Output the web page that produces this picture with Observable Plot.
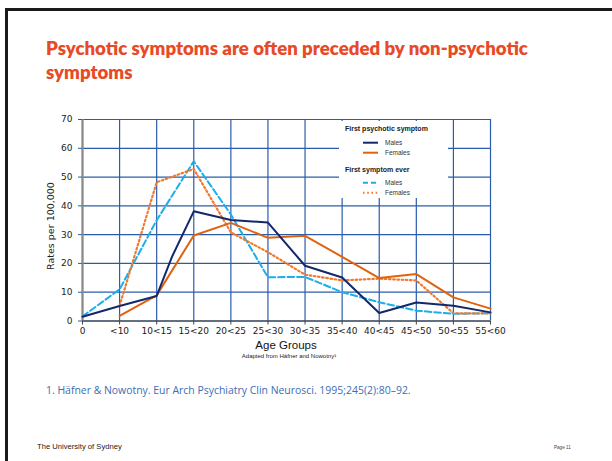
<!DOCTYPE html>
<html><head><meta charset="utf-8">
<script src="https://cdn.jsdelivr.net/npm/d3@7"></script>
<script src="https://cdn.jsdelivr.net/npm/@observablehq/plot@0.6"></script>
<style>
html,body{margin:0;padding:0;background:#fff;width:612px;height:461px;overflow:hidden;position:relative}
#chart{position:absolute;left:0;top:0}
#overlay{position:absolute;left:0;top:0}
#frame{position:absolute;left:5px;top:8px;width:620px;height:470px;border-top:3px solid #1a1a1a;border-left:3px solid #1a1a1a;box-sizing:border-box}
</style></head><body>
<div id="frame"></div>
<div id="chart"></div>
<svg id="overlay" width="612" height="461"></svg>
<script>
// ---- data ----
const ageGroups = ["0","<10","10<15","15<20","20<25","25<30","30<35","35<40","40<45","45<50","50<55","55<60"];
const yTicks = [0,10,20,30,40,50,60,70];
const groupPos = [0,1,2,3,4,5,6,7,8,9,10,11];
// First psychotic symptom – males (includes an intermediate vertex between 10<15 and 15<20)
const psychMalesX = [0,1,2,2.42,3,4,5,6,7,8,9,10,11];
const psychMales  = [1.5,5.2,8.7,22.5,38.1,35.1,34.2,19.2,15.1,2.8,6.4,5.3,3.0];
// First psychotic symptom – females
const psychFemales = [null,1.8,8.9,29.7,34.1,28.9,29.6,22.3,14.9,16.3,8.2,4.3];
// First symptom ever – males
const everMales = [1.6,11.0,35.0,55.5,37.0,15.2,15.3,10.0,6.5,3.6,2.5,2.7];
// First symptom ever – females
const everFemales = [null,5.3,48.2,52.8,30.8,23.9,16.1,14.1,14.7,14.1,2.7,2.6];

const legendGroups = ["First psychotic symptom","First symptom ever"];
const legendLabels = ["Males","Females"];

// ---- styles ----
const C = {navy:"#12286c", orange:"#e0620e", cyan:"#1aaeea", dot:"#f27a2c", grid:"#2b5cab"};
const DOTS = "1.6,2.6";

function rows(xs, ys){ return xs.map((x,i)=>({x, y: ys[i]})).filter(d=>d.y!=null); }

const chart = Plot.plot({
  width: 612, height: 461,
  marginLeft: 82, marginRight: 122, marginTop: 119, marginBottom: 140.5,
  style: {fontFamily: "DejaVu Sans", fontSize: "9px", color: "#222", background: "transparent"},
  x: {domain: [0, 11], label: null},
  y: {domain: [0, 70], label: null},
  marks: [
    Plot.ruleX(groupPos, {stroke: C.grid, strokeWidth: 1.2}),
    Plot.ruleY(yTicks, {stroke: C.grid, strokeWidth: 1.2}),
    Plot.ruleY([0], {stroke: "#333", strokeWidth: 1}),
    Plot.ruleX([0], {stroke: "#8a8a8a", strokeWidth: 2.2}),
    Plot.axisX({ticks: groupPos, tickFormat: i => ageGroups[i], tickSize: 4, tickPadding: 3, stroke: "#444", label: null}),
    Plot.axisY({ticks: yTicks, tickSize: 4, tickPadding: 6, stroke: C.grid, label: null}),
    Plot.line(rows(groupPos, everMales), {x: "x", y: "y", stroke: C.cyan, strokeWidth: 2, strokeDasharray: "6.5,3"}),
    Plot.line(rows(groupPos, everFemales), {x: "x", y: "y", stroke: C.dot, strokeWidth: 2.2, strokeDasharray: DOTS}),
    Plot.line(rows(groupPos, psychFemales), {x: "x", y: "y", stroke: C.orange, strokeWidth: 2}),
    Plot.line(rows(psychMalesX, psychMales), {x: "x", y: "y", stroke: C.navy, strokeWidth: 2})
  ]
});
document.getElementById("chart").appendChild(chart);

// ---- overlay texts ----
const ov = d3.select("#overlay");
function fit(sel, target){
  const fs = parseFloat(sel.attr("font-size"));
  const w = sel.node().getComputedTextLength();
  const nfs = fs * target / w;
  sel.attr("font-size", nfs);
  return nfs;
}
const titleColor = "#e84a27";
const t1 = ov.append("text").attr("x",46).attr("y",55).attr("font-family","Lato").attr("font-weight",800)
  .attr("font-size",16).attr("fill",titleColor).text("Psychotic symptoms are often preceded by non-psychotic");
const tfs = fit(t1, 482);
ov.append("text").attr("x",46).attr("y",79).attr("font-family","Lato").attr("font-weight",800)
  .attr("font-size",tfs).attr("fill",titleColor).text("symptoms");

// y label
ov.append("text").attr("transform","translate(54,226) rotate(-90)").attr("text-anchor","middle")
  .attr("font-family","DejaVu Sans").attr("font-size",9.5).attr("fill","#222").text("Rates per 100,000");

// x label
ov.append("text").attr("x",286).attr("y",349).attr("text-anchor","middle")
  .attr("font-family","Liberation Sans").attr("font-size",11.5).attr("fill","#111").text("Age Groups");
ov.append("text").attr("x",289).attr("y",357.5).attr("text-anchor","middle")
  .attr("font-family","Liberation Sans").attr("font-size",6).attr("fill","#222").text("Adapted from Häfner and Nowotny¹");

// footnote
const fn = ov.append("text").attr("x",46).attr("y",394).attr("font-family","Open Sans").attr("font-size",8.5)
  .attr("fill","#3d6db5").text("1. Häfner & Nowotny. Eur Arch Psychiatry Clin Neurosci. 1995;245(2):80–92.");
fit(fn, 365);

// footer
const ft = ov.append("text").attr("x",37).attr("y",449).attr("font-family","Liberation Sans").attr("font-size",7)
  .attr("fill","#222").text("The University of Sydney");
fit(ft, 85);
ov.append("text").attr("x",554).attr("y",449).attr("font-family","Liberation Sans").attr("font-size",4.6)
  .attr("fill","#444").text("Page 11");

// legend box
const lg = ov.append("g");
lg.append("rect").attr("x",339).attr("y",121).attr("width",109).attr("height",77).attr("fill","#fff");
const legendItems = [
  {head: legendGroups[0], y: 131},
  {label: legendLabels[0], y: 145, stroke: C.navy, dash: null},
  {label: legendLabels[1], y: 155, stroke: C.orange, dash: null},
  {head: legendGroups[1], y: 172},
  {label: legendLabels[0], y: 185, stroke: C.cyan, dash: "5,3"},
  {label: legendLabels[1], y: 195, stroke: C.dot, dash: DOTS}
];
legendItems.forEach(it => {
  if (it.head) {
    lg.append("text").attr("x",345).attr("y",it.y).attr("font-family","Liberation Sans").attr("font-weight","bold")
      .attr("font-size",7).attr("fill","#222").text(it.head);
  } else {
    lg.append("line").attr("x1",363).attr("x2",378).attr("y1",it.y-2.3).attr("y2",it.y-2.3)
      .attr("stroke",it.stroke).attr("stroke-width",2).attr("stroke-dasharray",it.dash);
    lg.append("text").attr("x",385).attr("y",it.y).attr("font-family","Liberation Sans")
      .attr("font-size",6.5).attr("fill","#333").text(it.label);
  }
});
</script>
</body></html>
